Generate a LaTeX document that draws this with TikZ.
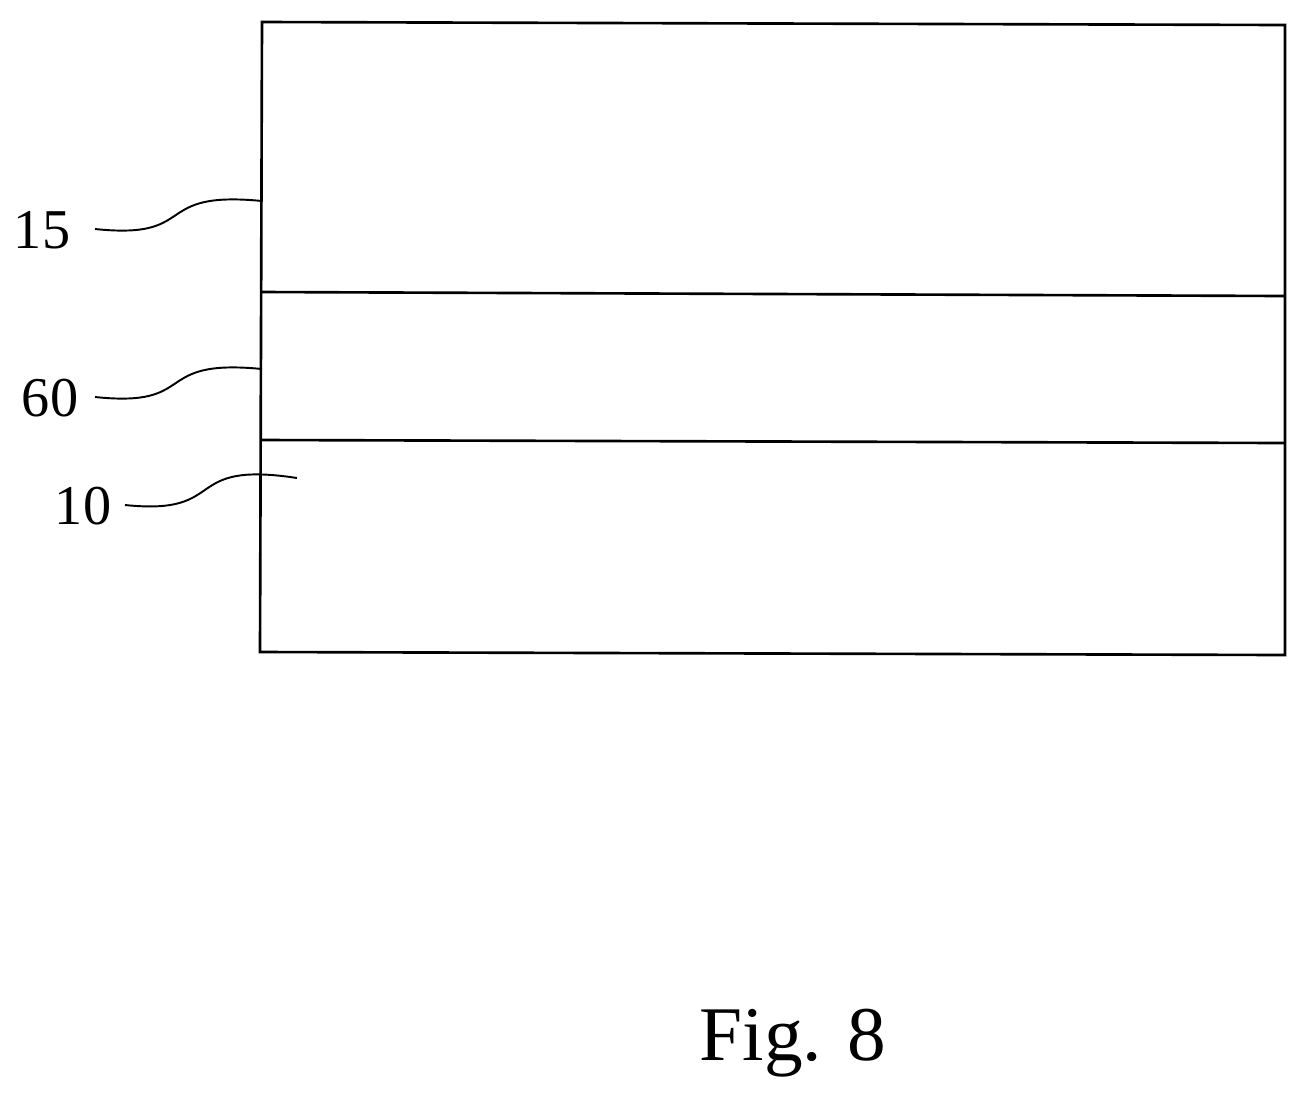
\documentclass[tikz,border=0pt]{standalone}
\usepackage{fontspec}
\setmainfont{Liberation Serif}
\begin{document}
\begin{tikzpicture}[x=0.02cm,y=-0.02cm,line width=1.5pt,
  lab/.style={font=\fontsize{32}{34}\selectfont,inner sep=0pt},
  lead/.style={line width=1.1pt}]
\useasboundingbox (0,0) rectangle (1309,1107);
\coordinate (tl) at (262,22); \coordinate (tr) at (1285,25);
\coordinate (br) at (1285,655); \coordinate (bl) at (260,652);
\draw (tl) -- (tr) -- (br) -- (bl) -- cycle;
\coordinate (a1) at (261,292); \coordinate (a2) at (1285,296);
\coordinate (b1) at (261,440); \coordinate (b2) at (1285,443);
\draw (a1) -- (a2);
\draw (b1) -- (b2);
\node[lab] (n15) at (42,230) {15};
\node[lab] (n60) at (50,398) {60};
\node[lab] (n10) at (83,506) {10};
\coordinate (e15) at (262,201);
\coordinate (e60) at (262,369);
\coordinate (e10) at (297,478);
\draw[lead] (95,229) .. controls (200,240) and (150,190) .. (e15);
\draw[lead] (95,397) .. controls (200,408) and (150,358) .. (e60);
\draw[lead] (125,505) .. controls (230,516) and (180,460) .. (e10);
\node[font=\fontsize{44}{48}\selectfont,inner sep=0pt] (fig) at (793,1043) {Fig. 8};
\end{tikzpicture}
\end{document}
